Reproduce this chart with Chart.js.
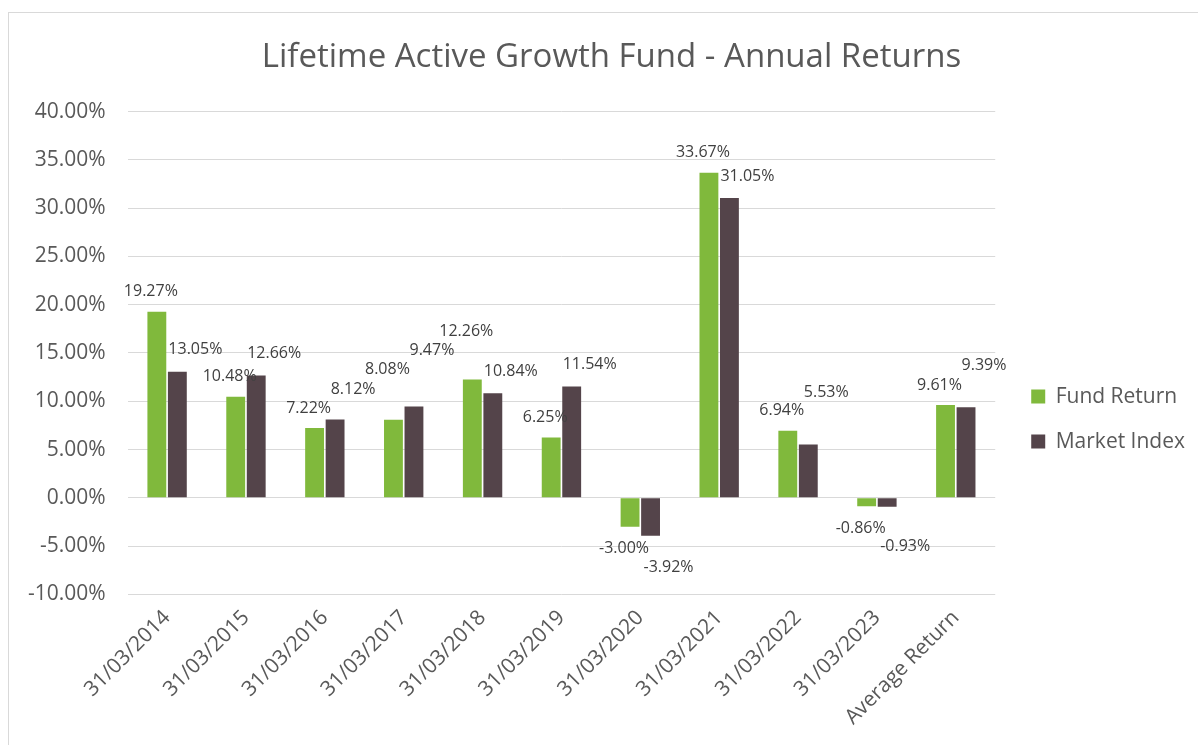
<!DOCTYPE html>
<html>
<head>
<meta charset="utf-8">
<script src="https://cdn.jsdelivr.net/npm/chart.js@4"></script>
<style>
  html, body { margin: 0; padding: 0; background: #fff; overflow: hidden; }
  #box { position: absolute; left: 8px; top: 12px; width: 1190px; height: 733px;
         border-left: 1px solid #d9d9d9; border-top: 1px solid #d9d9d9; box-sizing: border-box; }
</style>
</head>
<body>
<div id="box"><canvas id="chartReturns"></canvas></div>
<script>
const categories = ['31/03/2014', '31/03/2015', '31/03/2016', '31/03/2017', '31/03/2018', '31/03/2019',
  '31/03/2020', '31/03/2021', '31/03/2022', '31/03/2023', 'Average Return'];
const fundReturn = [19.27, 10.48, 7.22, 8.08, 12.26, 6.25, -3.00, 33.67, 6.94, -0.86, 9.61];
const marketIndex = [13.05, 12.66, 8.12, 9.47, 10.84, 11.54, -3.92, 31.05, 5.53, -0.93, 9.39];
const yTicks = [-10, -5, 0, 5, 10, 15, 20, 25, 30, 35, 40];

const FONT = "'Open Sans', 'DejaVu Sans', sans-serif";
const GREY = '#595959';

// value labels: above positive bars, below negative ones, nudged apart when they collide
const valueLabels = {
  id: 'valueLabels',
  afterDatasetsDraw(chart) {
    const ctx = chart.ctx;
    ctx.save();
    ctx.font = '16px ' + FONT;
    ctx.fillStyle = '#404040';
    ctx.textAlign = 'center';
    ctx.textBaseline = 'middle';
    const placed = [];
    const hits = (r) => placed.some(p => r.x1 < p.x2 && r.x2 > p.x1 && r.y1 < p.y2 && r.y2 > p.y1);
    const n = chart.data.labels.length;
    for (let j = 0; j < n; j++) {
      chart.data.datasets.forEach((ds, i) => {
        const bar = chart.getDatasetMeta(i).data[j];
        const v = ds.data[j];
        const txt = v.toFixed(2) + '%';
        const w = ctx.measureText(txt).width;
        const x = bar.x + (i === 0 ? -6 : 18);
        let y = v >= 0 ? bar.y - (i === 0 ? 20 : 22) : bar.y + 22;
        const step = v >= 0 ? -2 : 2;
        let r = { x1: x - w / 2, x2: x + w / 2, y1: y - 9, y2: y + 9 };
        let guard = 0;
        while (hits(r) && guard++ < 40) {
          y += step;
          r = { x1: x - w / 2, x2: x + w / 2, y1: y - 9, y2: y + 9 };
        }
        placed.push(r);
        ctx.fillText(txt, x, y);
      });
    }
    ctx.restore();
  }
};

const ctx = document.getElementById('chartReturns');

new Chart(ctx, {
  type: 'bar',
  data: {
    labels: categories,
    datasets: [{
      label: 'Fund Return',
      data: fundReturn,
      backgroundColor: '#80b93c',
      categoryPercentage: 0.52,
      barPercentage: 0.92
    }, {
      label: 'Market Index',
      data: marketIndex,
      backgroundColor: '#54444a',
      categoryPercentage: 0.52,
      barPercentage: 0.92
    }]
  },
  options: {
    responsive: true,
    maintainAspectRatio: false,
    animation: false,
    layout: { padding: { left: 19, right: 3, bottom: 12 } },
    plugins: {
      title: {
        display: true,
        text: 'Lifetime Active Growth Fund - Annual Returns',
        color: GREY,
        font: { family: FONT, size: 33, weight: 'normal' },
        padding: { top: 25, bottom: 34 }
      },
      legend: {
        position: 'right',
        title: { display: true, text: '', font: { size: 21 }, padding: { top: 0, bottom: 67 } },
        labels: {
          color: GREY,
          font: { family: FONT, size: 21 },
          boxWidth: 14,
          boxHeight: 14,
          padding: 24
        }
      },
      tooltip: { enabled: false }
    },
    scales: {
      x: {
        grid: { display: false },
        border: { display: false },
        ticks: {
          color: GREY,
          font: { family: FONT, size: 21 },
          minRotation: 45,
          maxRotation: 45,
          autoSkip: false
        }
      },
      y: {
        min: yTicks[0],
        max: yTicks[yTicks.length - 1],
        afterBuildTicks(axis) { axis.ticks = yTicks.map(v => ({ value: v })); },
        afterFit(axis) { axis.width -= 22; },
        grid: { color: '#d9d9d9', lineWidth: 1, drawTicks: false },
        border: { display: false },
        ticks: {
          color: GREY,
          font: { family: FONT, size: 21 },
          padding: 22,
          callback: v => v.toFixed(2) + '%'
        }
      },
      // empty spacer between the plot and the legend
      gap: {
        type: 'linear',
        position: 'right',
        display: true,
        grid: { display: false },
        border: { display: false },
        ticks: { display: false },
        afterFit(axis) { axis.width = 12; }
      }
    }
  },
  plugins: [valueLabels]
});
</script>
</body>
</html>
